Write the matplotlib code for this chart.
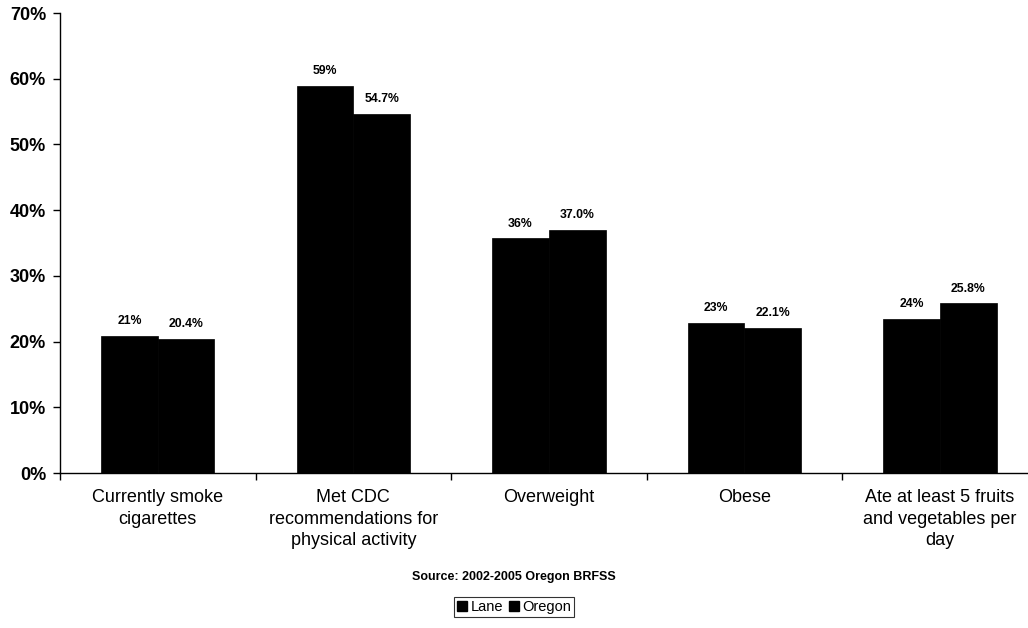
import matplotlib
matplotlib.use("Agg")
import matplotlib.pyplot as plt
import numpy as np
from matplotlib.patches import Patch

plt.rcParams['font.family'] = ['Liberation Sans', 'DejaVu Sans']

categories = ["Currently smoke\ncigarettes",
              "Met CDC\nrecommendations for\nphysical activity",
              "Overweight",
              "Obese",
              "Ate at least 5 fruits\nand vegetables per\nday"]
lane = [20.9, 58.9, 35.7, 22.9, 23.5]
oregon = [20.4, 54.7, 37.0, 22.1, 25.8]
lane_labels = ["21%", "59%", "36%", "23%", "24%"]
oregon_labels = ["20.4%", "54.7%", "37.0%", "22.1%", "25.8%"]
yticks = [0, 10, 20, 30, 40, 50, 60, 70]

fig = plt.figure(figsize=(10.28, 6.28), dpi=100)
ax = fig.add_axes([60/1028, 1 - 473/628, 1 - 60/1028, (473 - 13)/628])

x = np.arange(len(categories))
w = 0.29
ax.bar(x - w/2, lane, width=w, color='black', edgecolor='black', linewidth=0.5)
ax.bar(x + w/2, oregon, width=w, color='black', edgecolor='black', linewidth=0.5)

for xi, v, t in zip(x, lane, lane_labels):
    ax.text(xi - w/2, v + 1.3, t, ha='center', va='bottom', fontsize=8.8, fontweight='bold')
for xi, v, t in zip(x, oregon, oregon_labels):
    ax.text(xi + w/2, v + 1.3, t, ha='center', va='bottom', fontsize=8.8, fontweight='bold')

ax.set_yticks(yticks)
ax.set_yticklabels([f"{t}%" for t in yticks], fontsize=13, fontweight='bold')
ax.tick_params(axis='y', direction='out', length=5, width=1, pad=5)

ax.set_xticks(np.arange(-0.5, 5, 1.0))
ax.set_xticklabels([])
ax.tick_params(axis='x', direction='out', length=5, width=1)
ax.set_ylim(0, 70)
ax.set_xlim(-0.5, 4.45)

for xi, c in zip(x, categories):
    ax.text(xi, -2.5, c, ha='center', va='top', fontsize=13, linespacing=1.32)

ax.spines['top'].set_visible(False)
ax.spines['right'].set_visible(False)
ax.spines['left'].set_linewidth(1)
ax.spines['bottom'].set_linewidth(1)

fig.text(514/1028, 1 - 577/628, "Source: 2002-2005 Oregon BRFSS", ha='center', va='center',
         fontsize=9, fontweight='bold')

handles = [Patch(facecolor='black', edgecolor='black', label='Lane'),
           Patch(facecolor='black', edgecolor='black', label='Oregon')]
leg = fig.legend(handles=handles, loc='center', bbox_to_anchor=(514/1028, 1 - 607/628), ncol=2,
                 fontsize=10.5, frameon=True, fancybox=False, edgecolor='black',
                 handlelength=0.7, handleheight=0.7, handletextpad=0.2, columnspacing=0.4,
                 borderpad=0.2, borderaxespad=0)
leg.get_frame().set_linewidth(0.8)

fig.savefig("out.png", dpi=100)
